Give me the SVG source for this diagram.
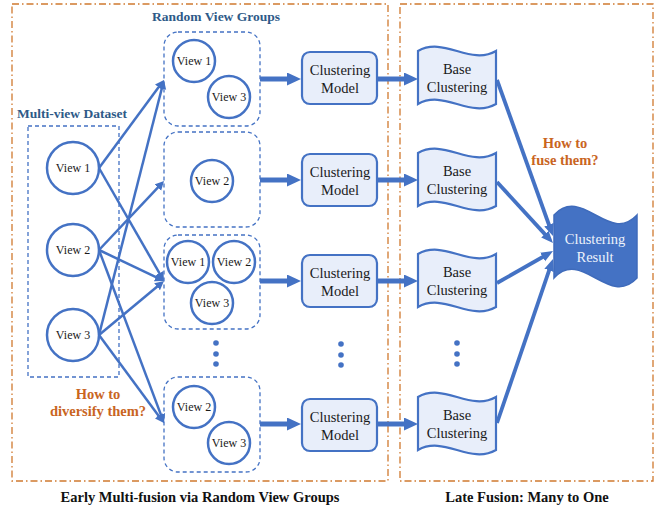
<svg xmlns="http://www.w3.org/2000/svg" width="660" height="510" viewBox="0 0 660 510" font-family="Liberation Serif, serif">
<defs>
<style>
.frame{fill:none;stroke:#d0792f;stroke-width:1.3;stroke-dasharray:7,3,1.5,3}
.dash{fill:none;stroke:#4472c4;stroke-width:1.3;stroke-dasharray:4,3}
.view{fill:#fff;stroke:#4472c4;stroke-width:2.5}
.vt{font-size:12px;fill:#1a1a1a;text-anchor:middle}
.box{fill:#e8eefa;stroke:#4472c4;stroke-width:2.2}
.bt{font-size:14.5px;fill:#1a1a1a;text-anchor:middle}
.title{font-size:13.5px;font-weight:bold;fill:#2e5a88;text-anchor:middle}
.q{font-size:14.5px;font-weight:bold;fill:#c9651f;text-anchor:middle}
.cap{font-size:14.5px;font-weight:bold;fill:#111;text-anchor:middle}
.thin{stroke:#4472c4;stroke-width:2.5;fill:none;marker-end:url(#ah)}
.thick{stroke:#4472c4;stroke-width:5;fill:none;marker-end:url(#ahb)}
.mid{stroke:#4472c4;stroke-width:3.8;fill:none;marker-end:url(#ahm)}
.dot{fill:#4472c4}
</style>
<marker id="ah" markerUnits="userSpaceOnUse" markerWidth="10" markerHeight="10" refX="3" refY="4.5" orient="auto"><path d="M0,0 L9,4.5 L0,9 z" fill="#4472c4"/></marker>
<marker id="ahb" markerUnits="userSpaceOnUse" markerWidth="16" markerHeight="16" refX="2" refY="6.5" orient="auto"><path d="M0,0 L14,6.5 L0,13 z" fill="#4472c4"/></marker>
<marker id="ahm" markerUnits="userSpaceOnUse" markerWidth="14" markerHeight="12" refX="4" refY="5" orient="auto"><path d="M0,0 L12,5 L0,10 z" fill="#4472c4"/></marker>
</defs>

<g id="frames">
<rect class="frame" x="12" y="4" width="376" height="477"/>
<rect class="frame" x="400" y="4" width="253" height="477"/>
</g>

<g id="labels">
<text class="title" x="216" y="21">Random View Groups</text>
<text class="title" x="72" y="118">Multi-view Dataset</text>
<text class="q" x="98" y="399">How to</text>
<text class="q" x="98" y="416">diversify them?</text>
<text class="q" x="565" y="148">How to</text>
<text class="q" x="565" y="165">fuse them?</text>
<text class="cap" x="200" y="502">Early Multi-fusion via Random View Groups</text>
<text class="cap" x="527" y="502">Late Fusion: Many to One</text>
</g>

<g id="dataset">
<rect class="dash" x="28" y="126" width="91" height="251"/>
<g id="d-view1"><circle class="view" cx="73" cy="168" r="26"/><text class="vt" x="73" y="172">View 1</text></g>
<g id="d-view2"><circle class="view" cx="73" cy="250" r="26"/><text class="vt" x="73" y="254">View 2</text></g>
<g id="d-view3"><circle class="view" cx="73" cy="335" r="26"/><text class="vt" x="73" y="339">View 3</text></g>
</g>

<g id="group1">
<rect class="dash" x="164" y="32" width="96" height="94" rx="14"/>
<circle class="view" cx="194" cy="61" r="21"/><text class="vt" x="194" y="65">View 1</text>
<circle class="view" cx="229" cy="97" r="21"/><text class="vt" x="229" y="101">View 3</text>
</g>
<g id="group2">
<rect class="dash" x="164" y="132" width="96" height="95" rx="14"/>
<circle class="view" cx="212" cy="181" r="21"/><text class="vt" x="212" y="185">View 2</text>
</g>
<g id="group3">
<rect class="dash" x="164" y="235" width="96" height="94" rx="14"/>
<circle class="view" cx="188" cy="262" r="21"/><text class="vt" x="188" y="266">View 1</text>
<circle class="view" cx="234" cy="262" r="21"/><text class="vt" x="234" y="266">View 2</text>
<circle class="view" cx="212" cy="303" r="21"/><text class="vt" x="212" y="307">View 3</text>
</g>
<g id="group4">
<rect class="dash" x="164" y="377" width="96" height="95" rx="14"/>
<circle class="view" cx="194" cy="407" r="21"/><text class="vt" x="194" y="411">View 2</text>
<circle class="view" cx="229" cy="443" r="21"/><text class="vt" x="229" y="447">View 3</text>
</g>

<g id="model1"><rect class="box" x="302" y="52" width="75" height="52" rx="8"/><text class="bt" x="340" y="75">Clustering</text><text class="bt" x="340" y="93">Model</text></g>
<g id="model2"><rect class="box" x="302" y="154" width="75" height="52" rx="8"/><text class="bt" x="340" y="177">Clustering</text><text class="bt" x="340" y="195">Model</text></g>
<g id="model3"><rect class="box" x="302" y="255" width="75" height="52" rx="8"/><text class="bt" x="340" y="278">Clustering</text><text class="bt" x="340" y="296">Model</text></g>
<g id="model4"><rect class="box" x="302" y="399" width="75" height="52" rx="8"/><text class="bt" x="340" y="422">Clustering</text><text class="bt" x="340" y="440">Model</text></g>

<g id="base1"><path class="box" d="M418,51 C444,36 470,66 496,51 L496,104 C470,119 444,89 418,104 Z"/><text class="bt" x="457" y="74">Base</text><text class="bt" x="457" y="92">Clustering</text></g>
<g id="base2"><path class="box" d="M418,153 C444,138 470,168 496,153 L496,206 C470,221 444,191 418,206 Z"/><text class="bt" x="457" y="176">Base</text><text class="bt" x="457" y="194">Clustering</text></g>
<g id="base3"><path class="box" d="M418,254 C444,239 470,269 496,254 L496,307 C470,322 444,292 418,307 Z"/><text class="bt" x="457" y="277">Base</text><text class="bt" x="457" y="295">Clustering</text></g>
<g id="base4"><path class="box" d="M418,397 C444,382 470,412 496,397 L496,450 C470,465 444,435 418,450 Z"/><text class="bt" x="457" y="420">Base</text><text class="bt" x="457" y="438">Clustering</text></g>

<g id="result"><path d="M554,215 C582,185 609,245 637,215 L637,278 C609,308 582,248 554,278 Z" fill="#4472c4" stroke="#3f6bbb" stroke-width="1.5"/><text class="bt" x="595" y="244" style="fill:#eef2fb">Clustering</text><text class="bt" x="595" y="262" style="fill:#eef2fb">Result</text></g>

<g id="dots">
<circle class="dot" cx="216" cy="343" r="2.8"/><circle class="dot" cx="216" cy="354" r="2.8"/><circle class="dot" cx="216" cy="364" r="2.8"/>
<circle class="dot" cx="341" cy="344" r="2.8"/><circle class="dot" cx="341" cy="355" r="2.8"/><circle class="dot" cx="341" cy="365" r="2.8"/>
<circle class="dot" cx="457" cy="343" r="2.8"/><circle class="dot" cx="457" cy="354" r="2.8"/><circle class="dot" cx="457" cy="364" r="2.8"/>
</g>

<g id="connectors">
<line class="thin" x1="99" y1="168" x2="160.4" y2="84.8"/>
<line class="thin" x1="99" y1="168" x2="161.0" y2="275.8"/>
<line class="thin" x1="99" y1="250" x2="159.9" y2="185.4"/>
<line class="thin" x1="99" y1="250" x2="158.6" y2="278.4"/>
<line class="thin" x1="99" y1="250" x2="161.9" y2="417.4"/>
<line class="thin" x1="99" y1="335" x2="162.5" y2="85.8"/>
<line class="thin" x1="99" y1="335" x2="159.4" y2="284.8"/>
<line class="thin" x1="99" y1="335" x2="160.4" y2="418.2"/>

<line class="thick" x1="260" y1="79" x2="289" y2="79"/>
<line class="thick" x1="260" y1="180" x2="289" y2="180"/>
<line class="thick" x1="260" y1="281" x2="289" y2="281"/>
<line class="thick" x1="260" y1="424" x2="289" y2="424"/>

<line class="thick" x1="377" y1="79" x2="406" y2="79"/>
<line class="thick" x1="377" y1="180" x2="406" y2="180"/>
<line class="thick" x1="377" y1="281" x2="406" y2="281"/>
<line class="thick" x1="377" y1="424" x2="406" y2="424"/>

<line class="mid" x1="497" y1="80" x2="550.3" y2="228.5"/>
<line class="mid" x1="497" y1="182" x2="547.6" y2="237.1"/>
<line class="mid" x1="497" y1="283" x2="546.1" y2="255.0"/>
<line class="mid" x1="497" y1="423" x2="550.4" y2="266.6"/>
</g>
</svg>
